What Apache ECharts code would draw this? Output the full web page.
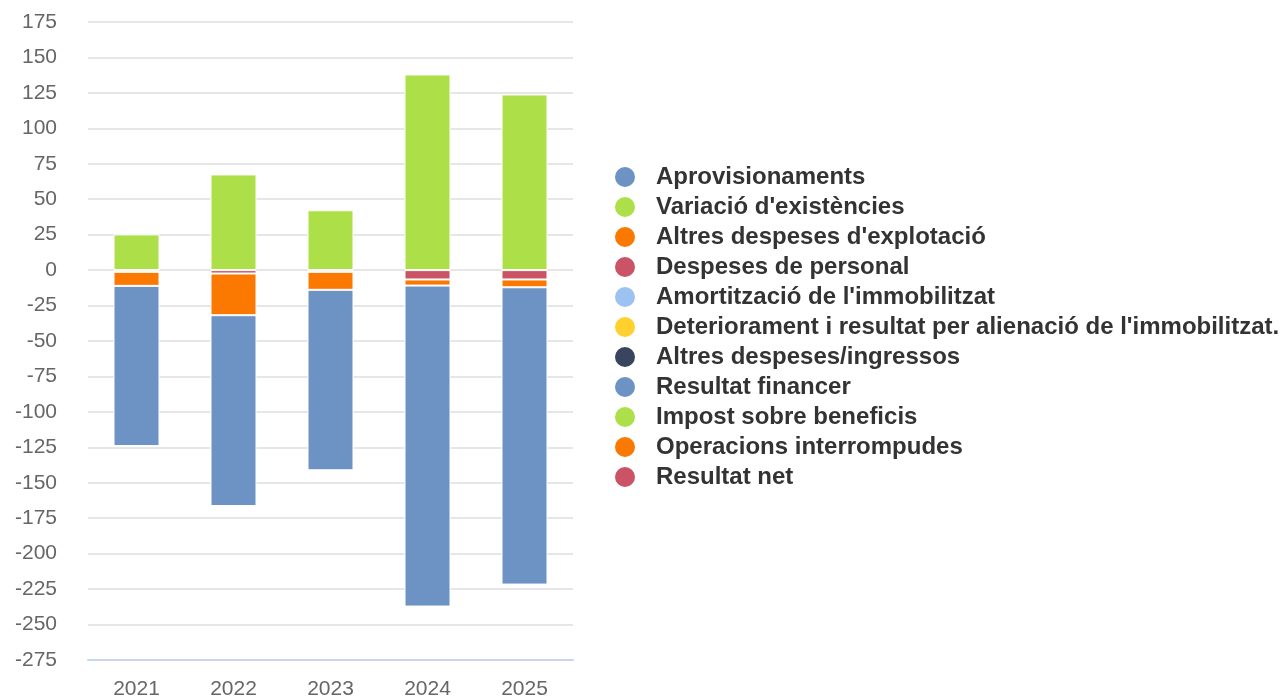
<!DOCTYPE html>
<html>
<head>
<meta charset="utf-8">
<script src="https://cdn.jsdelivr.net/npm/echarts@6/dist/echarts.min.js"></script>
<style>html,body{margin:0;padding:0;background:#fff}#c{width:1281px;height:696px}</style>
</head>
<body>
<div id="c"></div>
<script>
var years = ['2021', '2022', '2023', '2024', '2025'];
var seriesNames = [
  'Aprovisionaments',
  "Variació d'existències",
  "Altres despeses d'explotació",
  'Despeses de personal',
  "Amortització de l'immobilitzat",
  "Deteriorament i resultat per alienació de l'immobilitzat.",
  'Altres despeses/ingressos',
  'Resultat financer',
  'Impost sobre beneficis',
  'Operacions interrompudes',
  'Resultat net'
];
var seriesColors = ['#6c93c4', '#ade048', '#fb7900', '#cb5366', '#9cc2f2', '#ffd12e', '#39445e', '#6c93c4', '#ade048', '#fb7900', '#cb5366'];
var aprovisionaments = [-113, -134.6, -127.3, -226.4, -209.7];
var variacioExistencies = [25.2, 67.5, 42.2, 138, 123.9];
var altresDespesesExplotacio = [-9.9, -29.4, -12.7, -4.3, -5.5];
var despesesPersonal = [-1.2, -2.4, -1.2, -6.6, -6.6];
var amortitzacio = [null, null, null, null, null];
var deteriorament = [null, null, null, null, null];
var altresDespesesIngressos = [null, null, null, null, null];
var resultatFinancer = [null, null, null, null, null];
var impost = [null, null, null, null, null];
var operacionsInterrompudes = [null, null, null, null, null];
var resultatNet = [null, null, null, null, null];
var seriesData = [aprovisionaments, variacioExistencies, altresDespesesExplotacio, despesesPersonal,
  amortitzacio, deteriorament, altresDespesesIngressos, resultatFinancer, impost, operacionsInterrompudes, resultatNet];

var series = [];
for (var i = seriesNames.length - 1; i >= 0; i--) {
  series.push({
    name: seriesNames[i],
    type: 'bar',
    stack: 'total',
    barWidth: 46,
    data: seriesData[i],
    itemStyle: { color: seriesColors[i], borderColor: '#ffffff', borderWidth: 1 }
  });
}

var chart = echarts.init(document.getElementById('c'));
chart.setOption({
  animation: false,
  grid: { left: 88, right: 708, top: 22, bottom: 36, containLabel: false, outerBoundsMode: 'none' },
  legend: {
    orient: 'vertical',
    left: 608,
    top: 160,
    data: seriesNames,
    icon: 'circle',
    itemWidth: 22,
    itemHeight: 22,
    itemGap: 6,
    selectedMode: false,
    textStyle: { fontFamily: 'Liberation Sans, Arial, sans-serif', fontSize: 24, fontWeight: 'bold', color: '#333333', padding: [0, 0, 0, 15] }
  },
  xAxis: {
    type: 'category',
    data: years,
    axisLine: { onZero: false, lineStyle: { color: '#ccd6eb', width: 2 } },
    axisTick: { show: false },
    axisLabel: { fontFamily: 'Liberation Sans, Arial, sans-serif', fontSize: 21, color: '#666666', margin: 19 }
  },
  yAxis: {
    type: 'value',
    min: -275,
    max: 175,
    interval: 25,
    axisLine: { show: false },
    axisTick: { show: false },
    splitLine: { lineStyle: { color: '#e6e6e6', width: 2 } },
    axisLabel: { fontFamily: 'Liberation Sans, Arial, sans-serif', fontSize: 21, color: '#666666', margin: 31 }
  },
  series: series
});
</script>
</body>
</html>
